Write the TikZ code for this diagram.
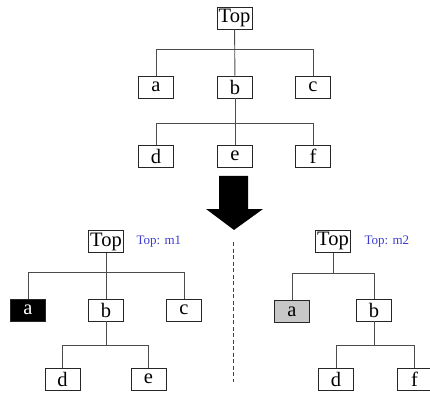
\documentclass[tikz,border=0pt]{standalone}
\usepackage{fontspec}
\setmainfont{Liberation Serif}
\definecolor{lblblue}{RGB}{60,60,205}
\begin{document}
\begin{tikzpicture}[x=1pt,y=-1pt,
  box/.style={draw=black!85, line width=0.8pt, minimum width=35pt, minimum height=22pt, inner sep=0pt, font=\fontsize{20.5}{20.5}\selectfont},
  ln/.style={draw=black!70, line width=0.9pt},
  lbl/.style={text=lblblue, font=\fontsize{13}{13}\selectfont}]
\useasboundingbox (0,0) rectangle (430,395);
% top tree
\node[box] (T) at (234.5,18) {Top};
\node[box] (a) at (156,87) {a};
\node[box] (b) at (235,87) {b};
\node[box] (c) at (313,87) {c};
\node[box] (d) at (156,156) {d};
\node[box] (e) at (235,156) {e};
\node[box] (f) at (313,156) {f};
\coordinate (j1) at (235,49.3);
\coordinate (j2) at (235,123.3);
\draw[ln] (T) -- (b);
\draw[ln] (a.north) |- (j1) -| (c.north);
\draw[ln] (b) -- (e);
\draw[ln] (d.north) |- (j2) -| (f.north);
% arrow
\fill[black] (219,176) -- (248,176) -- (248,209) -- (263,209) -- (234,230) -- (206,209) -- (219,209) -- cycle;
% dashed divider
\coordinate (ds) at (233.5,242);
\coordinate (de) at (233.5,382);
\draw[black!75, line width=0.8pt, dash pattern=on 4pt off 2.5pt] (ds) -- (de);
% left tree
\node[box] (LT) at (106,241.5) {Top};
\node[lbl, anchor=west] (Lm) at (133,242) {Top: m1};
\node[box, fill=black, text=white] (La) at (28,310) {a};
\node[box] (Lb) at (106,310) {b};
\node[box] (Lc) at (184,310) {c};
\node[box] (Ld) at (62.5,379) {d};
\node[box] (Le) at (148.5,379) {e};
\coordinate (Lj1) at (106,272.3);
\coordinate (Lj2) at (106,345.7);
\draw[ln] (LT) -- (Lb);
\draw[ln] (La.north) |- (Lj1) -| (Lc.north);
\draw[ln] (Lb) -- (Lj2);
\draw[ln] (Ld.north) |- (Lj2) -| (Le.north);
% right tree
\node[box] (RT) at (333,241.3) {Top};
\node[lbl, anchor=west] (Rm) at (361,242) {Top: m2};
\node[box, fill=black!22] (Ra) at (292,311.5) {a};
\node[box] (Rb) at (374,310) {b};
\node[box] (Rd) at (336,379) {d};
\node[box] (Rf) at (414.5,379) {f};
\coordinate (Rj1) at (333,273.3);
\coordinate (Rj2) at (374,345.7);
\draw[ln] (RT) -- (Rj1);
\draw[ln] (Ra.north) |- (Rj1) -| (Rb.north);
\draw[ln] (Rb) -- (Rj2);
\draw[ln] (Rd.north) |- (Rj2) -| (Rf.north);
\end{tikzpicture}
\end{document}
